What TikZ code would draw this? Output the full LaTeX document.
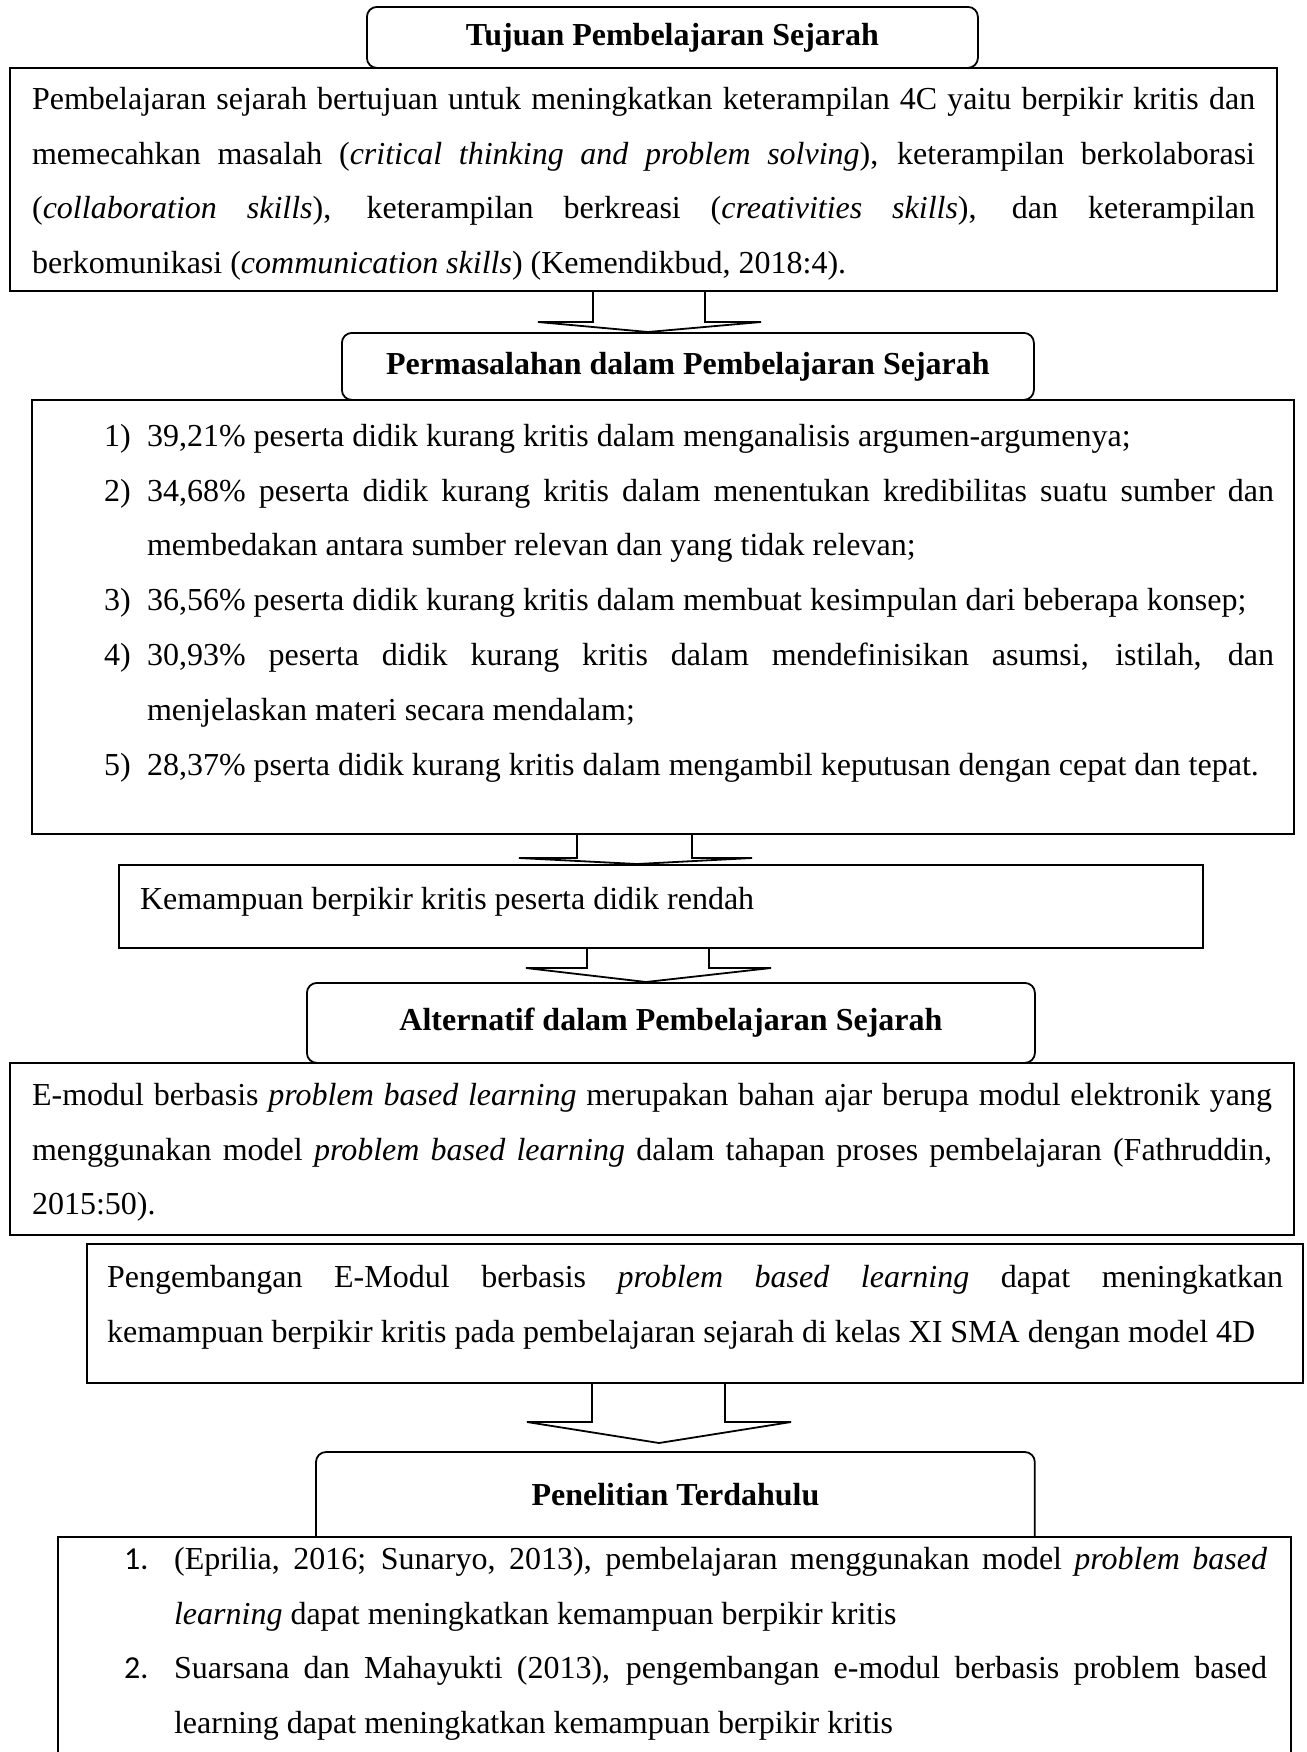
\documentclass[tikz,border=0pt]{standalone}
\usepackage{fontspec}
\setmainfont{Liberation Serif}
\newfontfamily\numfont{Carlito}
\usetikzlibrary{calc}
\newcommand{\bodyfont}{\fontsize{16pt}{27.4pt}\selectfont}
% fixed-size text panel: height, width, top gap, text
\newcommand{\panel}[4]{\parbox[c][#1][t]{#2}{\vspace*{#3}#4}}
% numbered line with hanging indent: label indent, text indent, label, text
\newcommand{\entry}[4]{\noindent\hangindent=#2\hangafter=1\hspace*{#1}\makebox[\dimexpr#2-#1\relax][l]{#3}#4\par}
% open block arrow: from, to, stem x left/right, wing y, wing x left/right, tip x, tip gap
\newcommand{\blockarrow}[9]{%
  \draw[flow] (#1.south -| #3,0) -- (#3,#5) -- (#6,#5) -- ($(#2.north -| #8,0)+(0,-#9)$)
    -- (#7,#5) -- (#4,#5) -- (#1.south -| #4,0);}

\begin{document}
\begin{tikzpicture}[x=0.5pt, y=-0.5pt,
        box/.style={draw, line width=1.1pt, anchor=north west, inner ysep=0pt, font=\bodyfont},
        title/.style={draw, line width=0.9pt, rounded corners=5pt, anchor=north west,
                      align=center, font=\bodyfont\bfseries},
        flow/.style={line width=0.9pt},
    ]
        \useasboundingbox (0,0) rectangle (1307,1752);

        % Tujuan
        \node[title, minimum width=305.5pt, minimum height=30.5pt] (tujuan) at (366,6) {Tujuan Pembelajaran Sejarah};
        \node[box, inner xsep=11pt] (tujuantext) at (9,67) {\panel{111.5pt}{611.5pt}{9.5pt}{%
            Pembelajaran sejarah bertujuan untuk meningkatkan keterampilan 4C yaitu berpikir kritis dan\linebreak
            memecahkan masalah (\textit{critical thinking and problem solving}), keterampilan berkolaborasi\linebreak
            (\textit{collaboration skills}), keterampilan berkreasi (\textit{creativities skills}), dan keterampilan\linebreak
            berkomunikasi (\textit{communication skills}) (Kemendikbud, 2018:4).}};

        % Permasalahan
        \node[title, minimum width=346pt, minimum height=33.5pt] (masalah) at (341,332) {Permasalahan dalam Pembelajaran Sejarah};
        \node[box, inner xsep=10pt] (masalahtext) at (31,399) {\panel{217pt}{611pt}{12pt}{%
            \entry{26pt}{47.5pt}{1)}{39,21\% peserta didik kurang kritis dalam menganalisis argumen-argumenya;}
            \entry{26pt}{47.5pt}{2)}{34,68\% peserta didik kurang kritis dalam menentukan kredibilitas suatu sumber dan\linebreak
                membedakan antara sumber relevan dan yang tidak relevan;}
            \entry{26pt}{47.5pt}{3)}{36,56\% peserta didik kurang kritis dalam membuat kesimpulan dari beberapa konsep;}
            \entry{26pt}{47.5pt}{4)}{30,93\% peserta didik kurang kritis dalam mendefinisikan asumsi, istilah, dan\linebreak
                menjelaskan materi secara mendalam;}
            \entry{26pt}{47.5pt}{5)}{28,37\% pserta didik kurang kritis dalam mengambil keputusan dengan cepat dan tepat.}}};
        \node[box, inner xsep=10.5pt] (rendah) at (118,864) {\panel{41.5pt}{521pt}{11pt}{%
            Kemampuan berpikir kritis peserta didik rendah}};

        % Alternatif
        \node[title, minimum width=364pt, minimum height=40pt] (alternatif) at (306,982) {Alternatif dalam Pembelajaran Sejarah};
        \node[box, inner xsep=11pt] (emodul) at (9,1062) {\panel{86pt}{620pt}{10pt}{%
            E-modul berbasis \textit{problem based learning} merupakan bahan ajar berupa modul elektronik yang\linebreak
            menggunakan model \textit{problem based learning} dalam tahapan proses pembelajaran (Fathruddin,\linebreak
            2015:50).}};
        \node[box, inner xsep=10pt] (pengembangan) at (86,1243) {\panel{69.5pt}{588pt}{10.5pt}{%
            Pengembangan E-Modul berbasis \textit{problem based learning} dapat meningkatkan\linebreak
            \mbox{kemampuan berpikir kritis pada pembelajaran sejarah di kelas XI SMA dengan model 4D}}};

        % Penelitian terdahulu (open at the bottom)
        \node[title, draw=none, minimum width=358.5pt, minimum height=42pt] (terdahulu) at (316,1452) {Penelitian Terdahulu};
        \draw[line width=0.9pt, rounded corners=5pt] (terdahulu.south west) |- (terdahulu.north east) -- (terdahulu.south east);
        \node[box, inner xsep=12pt] (terdahulutext) at (57,1536) {\panel{150pt}{592.5pt}{5pt}{%
            \entry{21pt}{46pt}{\numfont 1.}{(Eprilia, 2016; Sunaryo, 2013), pembelajaran menggunakan model \textit{problem based}\linebreak
                \textit{learning} dapat meningkatkan kemampuan berpikir kritis}
            \entry{21pt}{46pt}{\numfont 2.}{Suarsana dan Mahayukti (2013), pengembangan e-modul berbasis problem based\linebreak
                learning dapat meningkatkan kemampuan berpikir kritis}}};

        % Arrows
        \blockarrow{tujuantext}{masalah}{593}{705}{322}{538}{761}{648}{0}
        \blockarrow{masalahtext}{rendah}{577}{692}{858}{519}{752}{637}{0}
        \blockarrow{rendah}{alternatif}{587}{709}{968}{526}{771}{646}{0}
        \blockarrow{pengembangan}{terdahulu}{592}{725}{1422}{527}{791}{659}{9}

    \end{tikzpicture}
\end{document}
